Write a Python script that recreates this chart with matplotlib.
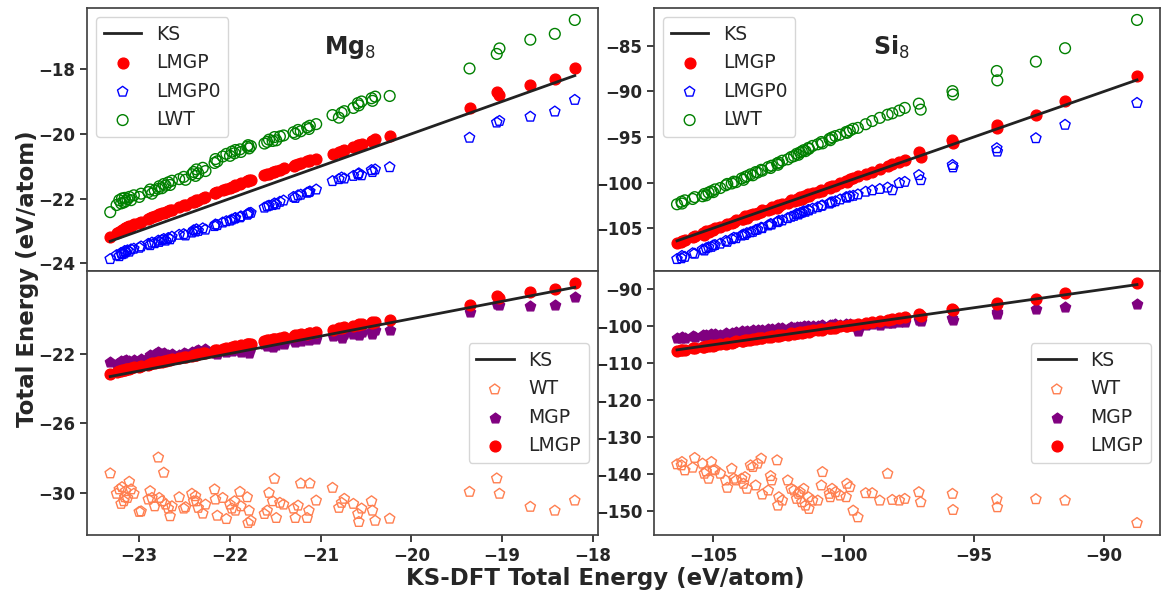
import numpy as np
import matplotlib.pyplot as plt
from matplotlib.ticker import MultipleLocator, FixedLocator

# Mg8: KS-DFT energies and model predictions (eV/atom)
mg_ks = [-23.32, -23.25, -23.22, -23.20, -23.19, -23.17, -23.16, -23.15, -23.13, -23.11,
         -23.09, -23.06, -23.00, -22.98,
         -22.90, -22.88, -22.86, -22.83, -22.79, -22.78, -22.75, -22.73, -22.71, -22.68,
         -22.66, -22.64, -22.56, -22.51, -22.49, -22.42, -22.40, -22.38, -22.37, -22.35,
         -22.30, -22.27,
         -22.17, -22.16, -22.14, -22.08, -22.04, -22.00, -21.98, -21.95, -21.94, -21.89,
         -21.88, -21.81, -21.80, -21.79, -21.77,
         -21.62, -21.59, -21.57, -21.53, -21.51, -21.49, -21.45, -21.41, -21.30, -21.28,
         -21.25, -21.22, -21.15, -21.13, -21.12, -21.05,
         -20.87, -20.80, -20.77, -20.74, -20.64, -20.59, -20.58, -20.55, -20.44, -20.43,
         -20.40, -20.24,
         -19.36, -19.06, -19.03, -18.69, -18.42, -18.20]
mg_lmgp0 = [-23.87, -23.75, -23.78, -23.68, -23.72, -23.70, -23.62, -23.66, -23.60, -23.64,
            -23.57, -23.55, -23.52, -23.48,
            -23.40, -23.44, -23.36, -23.38, -23.30, -23.34, -23.28, -23.25, -23.30, -23.22,
            -23.26, -23.18, -23.12, -23.10, -23.14, -23.05, -22.98, -23.02, -22.95, -23.00,
            -22.92, -22.96,
            -22.85, -22.80, -22.82, -22.74, -22.70, -22.68, -22.65, -22.62, -22.60, -22.58,
            -22.55, -22.50, -22.47, -22.45, -22.44,
            -22.28, -22.24, -22.22, -22.20, -22.15, -22.18, -22.10, -22.06, -21.95, -21.98,
            -21.90, -21.88, -21.82, -21.80, -21.78, -21.72,
            -21.46, -21.40, -21.35, -21.38, -21.30, -21.25, -21.22, -21.28, -21.12, -21.18,
            -21.10, -21.03,
            -20.12, -19.65, -19.60, -19.47, -19.31, -18.95]
mg_lmgp = [-23.20, -23.06, -23.02, -22.99, -22.96, -22.93, -22.92, -22.90, -22.87, -22.86,
           -22.84, -22.79, -22.75, -22.71,
           -22.63, -22.61, -22.57, -22.54, -22.50, -22.49, -22.46, -22.44, -22.42, -22.38,
           -22.36, -22.34, -22.26, -22.21, -22.19, -22.12, -22.10, -22.07, -22.06, -22.04,
           -21.99, -21.96,
           -21.84, -21.82, -21.80, -21.74, -21.70, -21.66, -21.63, -21.61, -21.59, -21.54,
           -21.53, -21.46, -21.45, -21.44, -21.43,
           -21.28, -21.25, -21.23, -21.19, -21.17, -21.15, -21.11, -21.07, -20.98, -20.95,
           -20.93, -20.90, -20.85, -20.83, -20.81, -20.78,
           -20.62, -20.55, -20.52, -20.50, -20.40, -20.36, -20.33, -20.31, -20.21, -20.23,
           -20.17, -20.07,
           -19.19, -18.72, -18.80, -18.49, -18.31, -17.95]
mg_lwt = [-22.42, -22.20, -22.05, -22.15, -22.00, -22.12, -21.98, -22.08, -22.02, -21.95,
          -22.05, -21.90, -21.95, -21.85,
          -21.80, -21.72, -21.85, -21.75, -21.70, -21.62, -21.68, -21.55, -21.60, -21.50,
          -21.58, -21.45, -21.40, -21.33, -21.42, -21.25, -21.18, -21.30, -21.10, -21.22,
          -21.05, -21.15,
          -20.90, -20.78, -20.85, -20.70, -20.62, -20.68, -20.55, -20.60, -20.50, -20.48,
          -20.56, -20.40, -20.35, -20.45, -20.38,
          -20.30, -20.25, -20.18, -20.22, -20.10, -20.20, -20.08, -20.05, -19.95, -20.00,
          -19.88, -19.92, -19.80, -19.85, -19.75, -19.70,
          -19.42, -19.50, -19.35, -19.30, -19.20, -19.05, -19.12, -19.00, -18.90, -18.98,
          -18.85, -18.83,
          -17.98, -17.53, -17.36, -17.09, -16.91, -16.48]
mg_wt = [-28.88, -30.05, -29.80, -30.63, -29.67, -30.48, -30.25, -29.90, -30.29, -29.36,
         -29.80, -30.05, -31.09, -31.06,
         -30.38, -29.90, -30.29, -30.77, -27.97, -30.29, -30.48, -28.84, -30.67, -30.90,
         -31.34, -30.77, -30.25, -30.90, -30.82, -30.05, -30.48, -30.19, -30.48, -30.86,
         -31.19, -30.67,
         -29.80, -30.38, -31.31, -30.29, -31.50, -30.67, -30.90, -30.48, -31.02, -29.94,
         -30.77, -30.25, -31.73, -31.02, -31.60,
         -31.21, -31.02, -30.00, -30.48, -29.19, -31.44, -30.57, -30.67, -30.90, -31.44,
         -30.73, -29.46, -31.44, -31.02, -29.46, -30.44,
         -29.71, -30.86, -30.57, -30.34, -30.63, -31.21, -31.67, -30.90, -30.48, -31.02,
         -31.60, -31.48,
         -29.94, -29.17, -30.05, -30.80, -31.02, -30.44]
mg_mgp = [-22.48, -22.62, -22.55, -22.40, -22.60, -22.45, -22.58, -22.38, -22.50, -22.42,
          -22.55, -22.35, -22.45, -22.30,
          -22.25, -22.10, -22.20, -22.00, -21.90, -21.95, -22.05, -21.98, -22.15, -22.10,
          -22.20, -22.05, -22.10, -21.95, -22.05, -21.90, -22.00, -21.85, -21.95, -21.80,
          -21.90, -21.75,
          -21.95, -21.85, -22.05, -21.80, -21.90, -21.75, -21.85, -21.70, -21.80, -21.65,
          -21.90, -21.60, -21.70, -21.95, -21.62,
          -21.45, -21.55, -21.40, -21.60, -21.35, -21.50, -21.30, -21.45, -21.20, -21.35,
          -21.15, -21.30, -21.10, -21.25, -21.05, -21.15,
          -21.00, -20.95, -21.10, -20.85, -20.90, -20.80, -20.95, -20.75, -20.70, -20.85,
          -20.65, -20.65,
          -19.59, -19.15, -19.22, -19.26, -19.21, -18.76]

# Si8
si_ks = [-106.39, -106.22, -106.20, -106.09, -105.79, -105.71, -105.41, -105.34, -105.27, -105.18,
         -105.07, -105.00, -104.93, -104.73, -104.52, -104.46, -104.29, -104.21, -104.12, -103.91,
         -103.84, -103.78, -103.71, -103.57, -103.48, -103.37, -103.30, -103.16, -103.12, -102.89,
         -102.80, -102.76, -102.55, -102.52, -102.48, -102.35, -102.14, -102.01, -101.90, -101.80,
         -101.73, -101.67, -101.60, -101.53, -101.46, -101.35, -101.33, -101.19, -100.99, -100.85,
         -100.81, -100.54, -100.51, -100.44, -100.31, -100.13, -99.90, -99.87, -99.76, -99.63,
         -99.45, -99.15, -98.90, -98.61, -98.31, -98.13, -97.86, -97.65, -97.11, -97.04,
         -95.82, -95.80, -94.12, -94.10, -92.62, -91.50, -88.74]
si_lmgp0 = [-108.39, -108.30, -108.05, -108.15, -107.75, -107.80, -107.35, -107.45, -107.20, -107.10,
            -107.05, -106.90, -106.85, -106.70, -106.40, -106.50, -106.20, -106.05, -106.10, -105.81,
            -105.70, -105.75, -105.55, -105.45, -105.40, -105.20, -105.15, -104.95, -105.00, -104.70,
            -104.55, -104.60, -104.34, -104.30, -104.20, -104.15, -103.90, -103.75, -103.65, -103.45,
            -103.50, -103.35, -103.30, -103.15, -103.20, -103.00, -103.05, -102.86, -102.70, -102.55,
            -102.50, -102.30, -102.20, -102.15, -102.05, -101.85, -101.60, -101.65, -101.50, -101.45,
            -101.30, -101.00, -100.85, -100.70, -100.55, -100.84, -100.05, -99.92, -99.18, -99.73,
            -98.07, -98.33, -96.23, -96.60, -95.13, -93.66, -91.26]
si_lwt = [-102.38, -102.10, -102.30, -101.95, -101.80, -101.60, -101.50, -101.25, -101.40, -101.10,
          -100.95, -101.05, -100.75, -100.60, -100.30, -100.15, -100.10, -99.90, -99.95, -99.55,
          -99.70, -99.40, -99.30, -99.10, -99.20, -98.85, -98.90, -98.60, -98.70, -98.30,
          -98.40, -98.15, -97.90, -98.05, -97.80, -97.60, -97.45, -97.20, -97.10, -96.85,
          -96.95, -96.70, -96.60, -96.45, -96.55, -96.20, -96.30, -95.98, -95.80, -95.55,
          -95.70, -95.20, -95.35, -95.05, -94.90, -94.75, -94.45, -94.55, -94.30, -94.10,
          -94.00, -93.60, -93.25, -92.90, -92.55, -92.40, -92.10, -91.81, -91.34, -92.00,
          -89.97, -90.34, -87.76, -88.79, -86.73, -85.26, -82.16]
si_lmgp = [-106.66, -106.55, -106.40, -106.35, -105.95, -105.90, -105.55, -105.70, -105.35, -105.40,
           -105.20, -105.25, -104.95, -104.85, -104.70, -104.50, -104.45, -104.35, -104.10, -103.95,
           -104.00, -103.70, -103.85, -103.60, -103.45, -103.50, -103.30, -103.25, -103.05, -103.00,
           -102.85, -102.70, -102.75, -102.45, -102.60, -102.30, -102.25, -101.95, -102.05, -101.80,
           -101.90, -101.60, -101.75, -101.45, -101.60, -101.30, -101.45, -101.10, -101.05, -100.80,
           -100.95, -100.50, -100.60, -100.35, -100.40, -100.05, -99.80, -99.95, -99.65, -99.55,
           -99.30, -99.05, -98.80, -98.50, -98.20, -98.00, -97.70, -97.50, -96.60, -97.15,
           -95.31, -95.68, -93.66, -94.02, -92.55, -91.00, -88.31]
si_wt = [-137.33, -137.60, -136.69, -138.96, -138.23, -135.60, -137.14, -139.86, -139.23, -141.22,
         -136.69, -138.96, -138.78, -139.86, -141.68, -143.67, -138.50, -141.22, -141.68, -141.22,
         -142.58, -140.77, -143.94, -137.60, -138.05, -143.03, -137.14, -135.78, -145.48, -144.40,
         -140.50, -141.68, -136.24, -148.48, -146.21, -147.12, -141.68, -143.94, -144.40, -146.66,
         -145.30, -144.85, -147.57, -143.94, -148.48, -146.21, -149.38, -147.12, -147.12, -143.03,
         -139.41, -145.30, -146.21, -143.94, -144.85, -145.76, -146.21, -142.58, -143.49, -149.84,
         -151.65, -145.12, -145.12, -147.12, -139.86, -146.94, -147.12, -146.66, -144.85, -147.57,
         -145.30, -149.66, -146.75, -148.93, -146.75, -147.12, -153.19]
si_mgp = [-103.15, -103.30, -102.90, -103.20, -102.60, -102.95, -102.40, -102.70, -102.30, -102.55,
          -102.20, -102.60, -102.10, -102.45, -101.90, -102.30, -101.75, -102.10, -101.60, -101.33,
          -101.80, -101.45, -101.20, -101.60, -101.10, -101.50, -100.95, -101.40, -101.00, -100.80,
          -101.15, -100.70, -100.90, -100.60, -101.00, -100.55, -100.70, -100.30, -100.50, -100.20,
          -100.45, -100.10, -100.35, -100.00, -100.25, -99.95, -100.15, -100.00, -99.85, -99.95,
          -99.70, -99.80, -99.55, -99.75, -99.50, -99.60, -99.45, -99.70, -99.50, -99.85,
          -101.30, -99.60, -99.35, -99.70, -99.10, -99.20, -98.75, -98.90, -98.20, -98.60,
          -97.70, -98.20, -96.20, -96.80, -95.44, -94.71, -94.08]

INK = '#262626'
plt.rcParams['font.family'] = 'DejaVu Sans'
plt.rcParams['text.color'] = INK
plt.rcParams['axes.edgecolor'] = '#444444'
plt.rcParams['axes.linewidth'] = 1.25
plt.rcParams['xtick.color'] = INK
plt.rcParams['ytick.color'] = INK
plt.rcParams['mathtext.fontset'] = 'dejavusans'

W, H = 1161, 593


def rect(l, t, r, b):
    return [l / W, 1 - b / H, (r - l) / W, (b - t) / H]


fig = plt.figure(figsize=(W / 100, H / 100), dpi=100)
ax_mg_top = fig.add_axes(rect(87, 8, 598, 271))
ax_mg_bot = fig.add_axes(rect(87, 271, 598, 535), sharex=ax_mg_top)
ax_si_top = fig.add_axes(rect(654, 8, 1160, 271))
ax_si_bot = fig.add_axes(rect(654, 271, 1160, 535), sharex=ax_si_top)
# left panels above right ones, so they hide the long tick labels of the right panels
ax_mg_top.set_zorder(2)
ax_mg_bot.set_zorder(2)

leg_font = {'size': 13.5}
S = 60


def top_panel(ax, ks, lmgp, lmgp0, lwt):
    ax.plot(ks, ks, color='#222222', lw=2, label='KS')
    ax.scatter(ks, lmgp, s=S, color='red', label='LMGP')
    ax.scatter(ks, lmgp0, s=S, marker='p', facecolors='none', edgecolors='blue', lw=1, label='LMGP0')
    ax.scatter(ks, lwt, s=S, facecolors='none', edgecolors='green', lw=1, label='LWT')
    ax.legend(loc='upper left', prop=leg_font, edgecolor='0.8')


def bottom_panel(ax, ks, wt, mgp, lmgp):
    ax.plot(ks, ks, color='#222222', lw=2, label='KS')
    ax.scatter(ks, wt, s=S, marker='p', facecolors='none', edgecolors='coral', lw=1, label='WT')
    ax.scatter(ks, mgp, s=S, marker='p', color='purple', label='MGP')
    ax.scatter(ks, lmgp, s=S, color='red', label='LMGP')
    ax.legend(loc='center right', prop=leg_font, edgecolor='0.8')


top_panel(ax_mg_top, mg_ks, mg_lmgp, mg_lmgp0, mg_lwt)
bottom_panel(ax_mg_bot, mg_ks, mg_wt, mg_mgp, mg_lmgp)
top_panel(ax_si_top, si_ks, si_lmgp, si_lmgp0, si_lwt)
bottom_panel(ax_si_bot, si_ks, si_wt, si_mgp, si_lmgp)

ax_mg_top.text(0.515, 0.85, r'$\mathbf{Mg}_{8}$', transform=ax_mg_top.transAxes,
               ha='center', va='center', fontsize=17)
ax_si_top.text(0.47, 0.85, r'$\mathbf{Si}_{8}$', transform=ax_si_top.transAxes,
               ha='center', va='center', fontsize=17)

ax_mg_top.xaxis.set_major_locator(MultipleLocator(1))
ax_si_top.xaxis.set_major_locator(MultipleLocator(5))
ax_mg_top.yaxis.set_major_locator(MultipleLocator(2))
ax_mg_bot.yaxis.set_major_locator(FixedLocator([-30, -26, -22]))
ax_si_top.yaxis.set_major_locator(MultipleLocator(5))
ax_si_bot.yaxis.set_major_locator(MultipleLocator(10))

for ax in (ax_mg_top, ax_si_top):
    ax.tick_params(axis='x', bottom=False, labelbottom=False)
for ax in (ax_mg_top, ax_mg_bot, ax_si_top, ax_si_bot):
    ax.tick_params(direction='out', length=5, width=1.25, labelsize=12)
    plt.setp(ax.get_xticklabels() + ax.get_yticklabels(), fontweight='bold')

fig.text(0.521, 0.025, 'KS-DFT Total Energy (eV/atom)', ha='center', va='center',
         fontsize=16.5, fontweight='bold')
fig.text(0.024, 0.53, 'Total Energy (eV/atom)', ha='center', va='center',
         rotation=90, fontsize=16.5, fontweight='bold')

fig.savefig('out.png', dpi=100)
